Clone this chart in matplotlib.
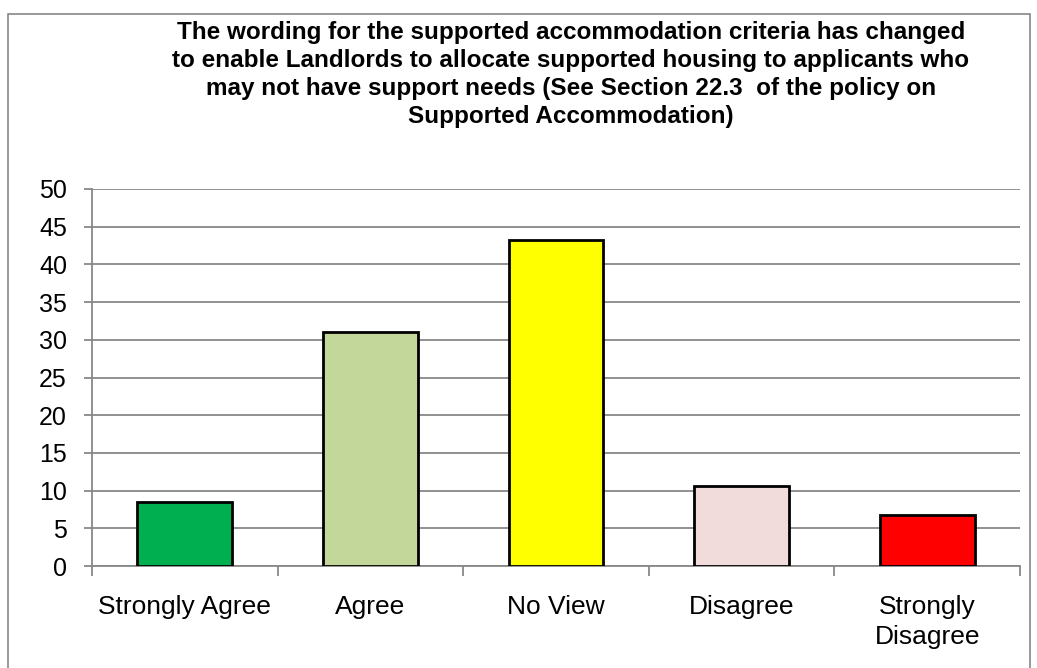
import matplotlib.pyplot as plt
import matplotlib.patches as patches
import numpy as np

plt.rcParams['font.family'] = ['Liberation Sans', 'DejaVu Sans']

categories = ["Strongly Agree", "Agree", "No View", "Disagree", "Strongly\nDisagree"]
values = [8.5, 31.0, 43.2, 10.6, 6.8]
colors = ["#00b050", "#c4d79b", "#ffff00", "#f2dcdb", "#ff0000"]
title = ("The wording for the supported accommodation criteria has changed\n"
         "to enable Landlords to allocate supported housing to applicants who\n"
         "may not have support needs (See Section 22.3  of the policy on\n"
         "Supported Accommodation)")

W, H = 1037, 668
fig = plt.figure(figsize=(W / 100, H / 100), dpi=100)

# outer chart border
fig.patches.append(patches.Rectangle((8 / W, -0.01), (1030 - 8) / W, 1 - 14 / H + 0.01,
                                     transform=fig.transFigure, fill=False,
                                     edgecolor="#888888", linewidth=1.2))

ax = fig.add_axes([92 / W, 1 - 566 / H, (1020 - 92) / W, (566 - 189) / H])

x = np.arange(len(categories))
ax.bar(x, values, width=0.51, color=colors, edgecolor="black", linewidth=2, zorder=3)

ax.set_xlim(-0.5, len(categories) - 0.5)
ax.set_ylim(0, 50)
ax.set_yticks(np.arange(0, 51, 5))
ax.yaxis.grid(True, color="#888888", linewidth=1.3, zorder=0)

ax.set_xticks(x)
ax.set_xticklabels(categories, fontsize=19, linespacing=1.3)
ax.set_xticks(np.arange(-0.5, len(categories), 1), minor=True)
ax.tick_params(axis="x", which="major", length=0, pad=21)
ax.tick_params(axis="x", which="minor", length=7, color="#888888", width=1.3)
ax.tick_params(axis="y", length=6, color="#888888", width=1.3, labelsize=18, pad=12)

for s in ["top", "right"]:
    ax.spines[s].set_visible(False)
for s in ["left", "bottom"]:
    ax.spines[s].set_color("#888888")
    ax.spines[s].set_linewidth(1.3)

fig.text(571 / W, 1 - 21 / H, title, ha="center", va="top", fontsize=17.5,
         fontweight="bold", linespacing=1.27)

fig.savefig("out.png", dpi=100)
